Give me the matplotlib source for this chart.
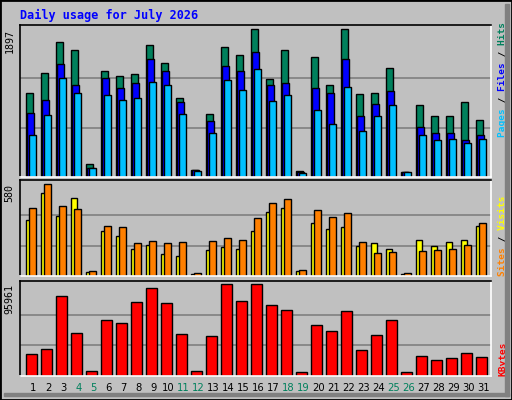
import matplotlib
matplotlib.use('Agg')
import matplotlib.pyplot as plt
from matplotlib.patches import Rectangle

days = list(range(1, 32))
weekend = [4, 5, 11, 12, 18, 19, 25, 26]

hits = [1073, 1330, 1730, 1627, 159, 1356, 1292, 1318, 1691, 1459, 1009, 82, 803, 1665, 1562,
        1897, 1253, 1627, 69, 1536, 1176, 1897, 1060, 1073, 1395, 56, 918, 777, 777, 957, 725]
files = [815, 983, 1446, 1176, 107, 1266, 1137, 1202, 1511, 1356, 957, 82, 712, 1421, 1356,
         1601, 1176, 1202, 56, 1137, 1073, 1511, 777, 931, 1099, 56, 635, 558, 558, 468, 532]
pages = [532, 790, 1266, 1073, 107, 1047, 983, 1009, 1215, 1176, 803, 69, 558, 1240, 1112,
         1382, 970, 1047, 43, 854, 674, 1150, 584, 777, 918, 56, 532, 468, 481, 429, 481]
visits = [353, 523, 378, 492, 25, 284, 252, 170, 195, 139, 126, 13, 164, 183, 170,
          284, 403, 429, 32, 334, 296, 309, 189, 208, 170, 13, 227, 189, 214, 227, 315]
sites = [429, 580, 441, 422, 32, 315, 309, 208, 221, 208, 214, 19, 221, 240, 227,
         366, 460, 485, 38, 416, 372, 397, 214, 145, 151, 19, 158, 164, 170, 195, 334]
kbytes = [22414, 27667, 83352, 44477, 4553, 58136, 54984, 77048, 91758, 75997, 43426, 4553,
          41325, 95961, 78099, 95961, 73896, 68643, 3502, 52883, 46579, 67592, 26617, 42376,
          58136, 3502, 20313, 16110, 18212, 23465, 19262]

BG = '#C0C0C0'
W, H = 512, 400
fig = plt.figure(figsize=(5.12, 4.0), dpi=100, facecolor=BG)

def px(x0, y0, x1, y1):
    return [x0 / W, 1 - y1 / H, (x1 - x0) / W, (y1 - y0) / H]

# outer frame bevel
fig.patches.append(Rectangle((0, 0), 1, 1, transform=fig.transFigure, fill=False,
                             edgecolor='black', linewidth=2))
fig.patches.append(Rectangle((505 / W, 4 / H), 4 / W, 392 / H, transform=fig.transFigure,
                             color='#808080'))
fig.patches.append(Rectangle((4 / W, 4 / H), 505 / W, 3 / H, transform=fig.transFigure,
                             color='#808080'))

mono = 'DejaVu Sans Mono'

def panel(rect, ymax_lim, ymax):
    ax = fig.add_axes(px(*rect))
    ax.set_facecolor(BG)
    ax.set_xlim(0.12, 31.52)
    ax.set_ylim(0, ymax_lim)
    for g in (ymax / 3, 2 * ymax / 3):
        ax.axhline(g, color='#808080', linewidth=1.2, zorder=0)
    ax.set_xticks([])
    ax.set_yticks([])
    ax.spines['left'].set_color('black')
    ax.spines['top'].set_color('black')
    ax.spines['right'].set_color('white')
    ax.spines['bottom'].set_color('white')
    for s in ax.spines.values():
        s.set_linewidth(1.2)
    ax.text(-0.012, (ymax / ymax_lim), str(ymax), transform=ax.transAxes, rotation=90,
            ha='right', va='top', fontsize=7.2, family=mono)
    return ax

def side_label(ax, parts, bottom):
    # mono font: pad each coloured part with spaces so the pieces line up
    full = ''.join(p for p, c in parts)
    pos = 0
    for p, c in parts:
        s = ' ' * pos + p + ' ' * (len(full) - pos - len(p))
        ax.text(1.015, bottom, s, transform=ax.transAxes, rotation=90, ha='left',
                va='bottom', fontsize=6.8, family=mono, weight='bold', color=c)
        pos += len(p)

bar = dict(edgecolor='black', linewidth=1, align='edge')

ax1 = panel((20, 25, 491, 176.7), 1952, 1897)
ax1.bar([d - 0.5 for d in days], hits, 0.47, color='#00805C', **bar)
ax1.bar([d - 0.39 for d in days], files, 0.47, color='#0000FF', **bar)
ax1.bar([d - 0.26 for d in days], pages, 0.47, color='#00C0FF', **bar)
side_label(ax1, [('Pages', '#00C0FF'), (' / ', 'black'), ('Files', '#0000FF'),
                 (' / ', 'black'), ('Hits', '#00805C')], 0.26)

ax2 = panel((20, 180, 491, 276.3), 607, 580)
ax2.bar([d - 0.5 for d in days], visits, 0.4, color='#FFFF00', **bar)
ax2.bar([d - 0.26 for d in days], sites, 0.47, color='#FF8000', **bar)
side_label(ax2, [('Sites', '#FF8000'), (' / ', 'black'), ('Visits', '#FFFF00')], 0.0)

ax3 = panel((20, 281, 491, 375.7), 99426, 95961)
ax3.bar([d - 0.46 for d in days], kbytes, 0.69, color='#FF0000', **bar)
side_label(ax3, [('KBytes', '#FF0000')], 0.0)

for d in days:
    ax3.text(d, -0.13, str(d), transform=ax3.get_xaxis_transform(), ha='center', va='center',
             fontsize=7.2, color='#00805C' if d in weekend else 'black')

fig.text(20 / W, 1 - 15 / H, 'Daily usage for July 2026', ha='left', va='center',
         fontsize=8.5, family=mono, weight='bold', color='#0000FF')

fig.savefig('out.png', dpi=100, facecolor=BG)
